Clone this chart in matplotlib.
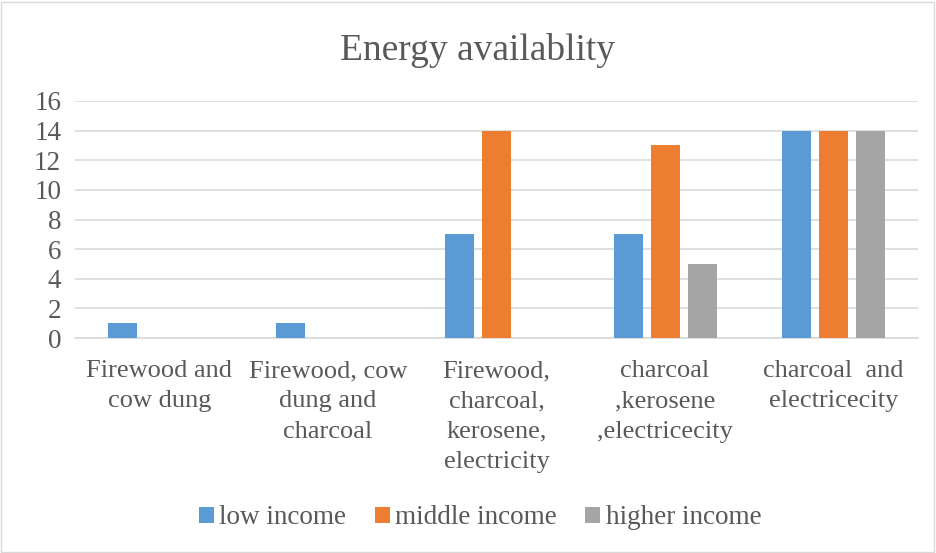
import matplotlib
matplotlib.use("Agg")
import matplotlib.pyplot as plt
import numpy as np
from matplotlib.patches import Rectangle

categories = ["Firewood and\ncow dung", "Firewood, cow\ndung and\ncharcoal",
              "Firewood,\ncharcoal,\nkerosene,\nelectricity",
              "charcoal\n,kerosene\n,electricecity", "charcoal  and\nelectricecity"]
series_names = ["low income", "middle income", "higher income"]
low_income = [1, 1, 7, 7, 14]
middle_income = [0, 0, 14, 13, 14]
higher_income = [0, 0, 0, 5, 14]
colors = ["#5B9BD5", "#ED7D31", "#A5A5A5"]
yticks = [0, 2, 4, 6, 8, 10, 12, 14, 16]

plt.rcParams['font.family'] = ['Liberation Serif', 'DejaVu Serif']
txt = "#595959"

fig = plt.figure(figsize=(9.36, 5.53), dpi=100)
ax = fig.add_axes([75/936, 1-338/553, (918-75)/936, (338-101)/553])

x = np.arange(len(categories))
width = 0.172
step = 0.22
for i, (vals, name, c) in enumerate(zip([low_income, middle_income, higher_income], series_names, colors)):
    ax.bar(x + (i-1)*step, vals, width=width, color=c, label=name, zorder=3)

ax.set_xlim(-0.5, len(categories)-0.5)
ax.set_ylim(0, 16)
ax.set_yticks(yticks)
ax.set_yticklabels([str(v) for v in yticks], fontsize=19.5, color=txt)
ax.set_xticks(x)
ax.set_xticklabels(categories, fontsize=19, color=txt, linespacing=1.48, va='top')
ax.tick_params(axis='both', length=0)
ax.tick_params(axis='y', pad=10)
ax.tick_params(axis='x', pad=16)
ax.grid(axis='y', color='#D9D9D9', linewidth=1.2, zorder=0)
for s in ['top', 'right', 'left']:
    ax.spines[s].set_visible(False)
ax.spines['bottom'].set_color('#D9D9D9')
ax.spines['bottom'].set_linewidth(1.2)

fig.text(0.51, 1-51/553, "Energy availablity", ha='center', va='center', fontsize=27, color=txt)

leg = fig.legend(loc='center', bbox_to_anchor=(0.513, 1-518/553), ncol=3, frameon=False,
                 fontsize=19.5, handlelength=0.55, handleheight=0.55, handletextpad=0.2,
                 columnspacing=1.05)
for t in leg.get_texts():
    t.set_color(txt)

fig.add_artist(Rectangle((1/936, 1/553), 933/936, 550/553, transform=fig.transFigure,
                         fill=False, edgecolor='#D9D9D9', linewidth=1.0))

fig.savefig("out.png", dpi=100)
